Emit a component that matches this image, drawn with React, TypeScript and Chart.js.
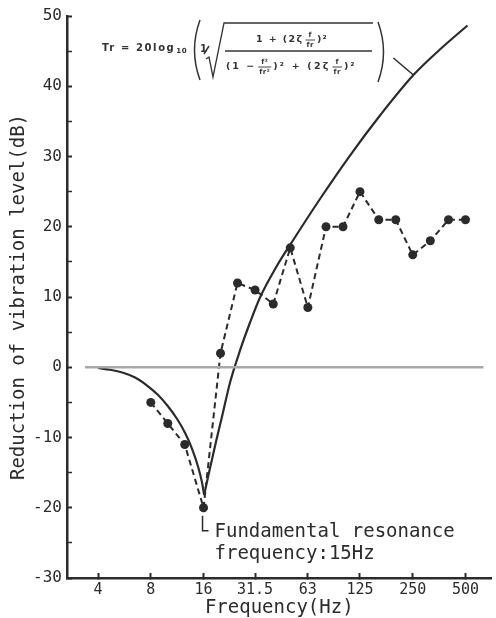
import React, { useEffect, useRef } from 'react';
import { Chart, registerables } from 'chart.js';

Chart.register(...registerables);

const W = 496;
const H = 618;

// Axes
const xTickValues = [4, 8, 16, 31.5, 63, 125, 250, 500];
const xTickLabels = ['4', '8', '16', '31.5', '63', '125', '250', '500'];
const xMin = 2.661;
const xMax = 703.7;
const yMin = -30;
const yMax = 50;
const yStep = 5;

// Measured reduction (1/3 octave)
const measFreq = [8, 10, 12.5, 16, 20, 25, 31.5, 40, 50, 63, 80, 100, 125, 160, 200, 250, 315, 400, 500];
const measLevel = [-5, -8, -11, -20, 2, 12, 11, 9, 17, 8.5, 20, 20, 25, 21, 21, 16, 18, 21, 21];

// Theoretical curve (below and above resonance)
const curveLowFreq = [4, 4.69, 5.56, 6.51, 7.62, 8.81, 10.05, 11.31, 12.56, 13.78, 14.91, 15.71, 16.13];
const curveLowLevel = [-0.11, -0.36, -0.79, -1.46, -2.6, -3.95, -5.59, -7.37, -9.36, -11.64, -14.2, -16.48, -18.2];
const curveHighFreq = [16.13, 16.78, 17.69, 18.89, 20.44, 22.71, 25.9, 29.55, 33.7, 41.6, 52.0, 74.2, 110.1, 163.4, 252.2, 359.7, 513.1];
const curveHighLevel = [-18.2, -16.19, -13.63, -10.5, -6.94, -2.1, 2.46, 6.44, 10.0, 14.27, 18.11, 24.02, 30.21, 35.91, 41.6, 45.3, 48.65];

// Reference 0 dB line
const zeroFreq = [3.37, 633];
const zeroLevel = [0, 0];

// Annotations
const resonanceFreq = 16;
const resonanceLevel = -20;
const resonanceText = ['Fundamental resonance', 'frequency:15Hz'];
const formulaAnchorFreq = 252.2;
const formulaAnchorLevel = 41.6;

const INK = '#2b2b2b';
const MONO = '"DejaVu Sans Mono", "Liberation Mono", monospace';
const SANS = '"DejaVu Sans", "Liberation Sans", sans-serif';

const pts = (xs: number[], ys: number[]) => xs.map((x, i) => ({ x, y: ys[i] }));

function setFont(ctx: any, size: number, spacing: number) {
  ctx.font = `bold ${size}px ${SANS}`;
  try {
    ctx.letterSpacing = `${spacing}px`;
  } catch (e) {
    /* ignore */
  }
}

function txt(ctx: any, s: string, x: number, y: number, size: number, spacing = 1.2): number {
  setFont(ctx, size, spacing);
  ctx.textAlign = 'left';
  ctx.fillText(s, x, y);
  return x + ctx.measureText(s).width;
}

function frac(ctx: any, a: string, b: string, x: number, y: number, size: number): number {
  setFont(ctx, size, 0.5);
  const w = Math.max(ctx.measureText(a).width, ctx.measureText(b).width) + 2;
  ctx.textAlign = 'left';
  ctx.fillText(a, x + (w - ctx.measureText(a).width) / 2, y - size * 0.62);
  ctx.fillText(b, x + (w - ctx.measureText(b).width) / 2, y + size * 0.68);
  ctx.beginPath();
  ctx.moveTo(x, y);
  ctx.lineTo(x + w, y);
  ctx.lineWidth = 0.9;
  ctx.stroke();
  return x + w + 2;
}

const annotPlugin = {
  id: 'annot',
  afterDraw(chart: any) {
    const { ctx, scales, chartArea } = chart;
    const x = scales.x;
    const y = scales.y;
    ctx.save();
    ctx.strokeStyle = INK;
    ctx.fillStyle = INK;
    ctx.textBaseline = 'middle';

    // Resonance note
    const rx = x.getPixelForValue(resonanceFreq);
    const ry = y.getPixelForValue(resonanceLevel);
    ctx.lineWidth = 1.5;
    ctx.beginPath();
    ctx.moveTo(rx - 1, ry + 8);
    ctx.lineTo(rx - 1, ry + 23);
    ctx.lineTo(rx + 5, ry + 23);
    ctx.stroke();
    ctx.font = `19px ${MONO}`;
    ctx.textAlign = 'left';
    ctx.fillText(resonanceText[0], rx + 11, ry + 24);
    ctx.fillText(resonanceText[1], rx + 11, ry + 46);

    // Formula leader line
    const fx = x.getPixelForValue(formulaAnchorFreq);
    const fy = y.getPixelForValue(formulaAnchorLevel);
    ctx.lineWidth = 1.5;
    ctx.beginPath();
    ctx.moveTo(fx - 20, fy - 17);
    ctx.lineTo(fx, fy);
    ctx.stroke();

    // Formula
    const L = chartArea.left;
    const T = chartArea.top;
    ctx.fillStyle = '#333';
    ctx.strokeStyle = '#333';
    let cx = txt(ctx, 'Tr = 20log', L + 35, T + 32, 10, 1.6);
    txt(ctx, '10', cx + 1, T + 35, 7, 0.5);
    // big left paren
    ctx.lineWidth = 1.5;
    ctx.beginPath();
    ctx.moveTo(L + 133, T + 4);
    ctx.quadraticCurveTo(L + 122, T + 34, L + 133, T + 64);
    ctx.stroke();
    txt(ctx, '1', L + 133, T + 33, 10, 0);
    ctx.beginPath();
    ctx.moveTo(L + 137, T + 38);
    ctx.lineTo(L + 142, T + 30);
    ctx.stroke();
    // root sign
    ctx.lineWidth = 1.3;
    ctx.beginPath();
    ctx.moveTo(L + 139, T + 43);
    ctx.lineTo(L + 142, T + 41);
    ctx.lineTo(L + 146, T + 61);
    ctx.lineTo(L + 157, T + 7);
    ctx.lineTo(L + 306, T + 7);
    ctx.stroke();
    // main fraction bar
    ctx.beginPath();
    ctx.moveTo(L + 158, T + 35);
    ctx.lineTo(L + 305, T + 35);
    ctx.stroke();
    // numerator
    cx = txt(ctx, '1 + (2\u03B6', L + 189, T + 24, 9.5, 1.4);
    cx = frac(ctx, 'f', 'fr', cx + 2, T + 24, 7);
    txt(ctx, ')\u00B2', cx, T + 24, 9.5, 1);
    // denominator
    cx = txt(ctx, '(1 \u2212', L + 159, T + 51, 9.5, 2);
    cx = frac(ctx, 'f\u00B2', 'fr\u00B2', cx + 2, T + 51, 7);
    cx = txt(ctx, ')\u00B2 + (2\u03B6', cx, T + 51, 9.5, 2.2);
    cx = frac(ctx, 'f', 'fr', cx + 2, T + 51, 7);
    txt(ctx, ')\u00B2', cx, T + 51, 9.5, 2);
    // big right paren
    ctx.lineWidth = 1.5;
    ctx.beginPath();
    ctx.moveTo(L + 311, T + 6);
    ctx.quadraticCurveTo(L + 322, T + 36, L + 311, T + 66);
    ctx.stroke();

    ctx.restore();
  },
};

export default function App() {
  const ref = useRef<HTMLCanvasElement | null>(null);

  useEffect(() => {
    if (!ref.current) return;
    const chart = new Chart(ref.current, {
      type: 'line',
      data: {
        datasets: [
          {
            data: pts(zeroFreq, zeroLevel),
            borderColor: '#a8a8a8',
            borderWidth: 2.4,
            pointRadius: 0,
          },
          {
            data: pts(curveLowFreq, curveLowLevel),
            borderColor: INK,
            borderWidth: 2.2,
            pointRadius: 0,
            cubicInterpolationMode: 'monotone',
          },
          {
            data: pts(curveHighFreq, curveHighLevel),
            borderColor: INK,
            borderWidth: 2.2,
            pointRadius: 0,
            cubicInterpolationMode: 'monotone',
          },
          {
            data: pts(measFreq, measLevel),
            borderColor: INK,
            borderWidth: 2,
            borderDash: [6, 4],
            pointRadius: 4.5,
            pointBackgroundColor: INK,
            pointBorderColor: INK,
            pointBorderWidth: 0,
          },
        ],
      } as any,
      options: {
        animation: false,
        responsive: false,
        layout: { padding: { top: 16, right: 0, left: 0, bottom: 0 } },
        plugins: { legend: { display: false }, tooltip: { enabled: false } },
        scales: {
          x: {
            type: 'logarithmic',
            min: xMin,
            max: xMax,
            afterBuildTicks: (s: any) => {
              s.ticks = xTickValues.map((v) => ({ value: v }));
            },
            afterFit: (s: any) => {
              s.height = 40;
              s.paddingLeft = 0;
              s.paddingRight = 0;
            },
            grid: {
              drawOnChartArea: false,
              drawTicks: true,
              tickLength: -5,
              tickColor: INK,
              tickWidth: 2,
            },
            border: { display: true, color: INK, width: 2.5 },
            ticks: {
              autoSkip: false,
              maxRotation: 0,
              padding: 8,
              color: INK,
              font: { family: MONO, size: 15 },
              callback: (_v: any, i: number) => xTickLabels[i],
            },
            title: {
              display: true,
              text: 'Frequency(Hz)',
              color: INK,
              font: { family: MONO, size: 19, lineHeight: 1 },
              padding: { top: 0, bottom: 0 },
            },
          },
          y: {
            type: 'linear',
            min: yMin,
            max: yMax,
            afterFit: (s: any) => {
              s.width = 67;
              s.paddingTop = 0;
              s.paddingBottom = 0;
            },
            grid: {
              drawOnChartArea: false,
              drawTicks: true,
              tickLength: -5,
              tickColor: INK,
              tickWidth: (c: any) => (c.tick && c.tick.value % 10 === 0 ? 2 : 1.5),
            },
            border: { display: true, color: INK, width: 2.5 },
            ticks: {
              stepSize: yStep,
              padding: 10,
              color: INK,
              font: { family: MONO, size: 16 },
              callback: (v: any) => (Number(v) % 10 === 0 ? String(v) : ''),
            },
            title: {
              display: true,
              text: 'Reduction of vibration level(dB)',
              color: INK,
              font: { family: MONO, size: 19, lineHeight: 1 },
              padding: { top: 10, bottom: 0 },
            },
          },
        },
      } as any,
      plugins: [annotPlugin],
    });
    return () => chart.destroy();
  }, []);

  return (
    <div style={{ position: 'absolute', left: 0, top: 0, width: W, height: H, background: '#fff' }}>
      <canvas ref={ref} width={W} height={H} style={{ display: 'block', width: W, height: H }} />
    </div>
  );
}
